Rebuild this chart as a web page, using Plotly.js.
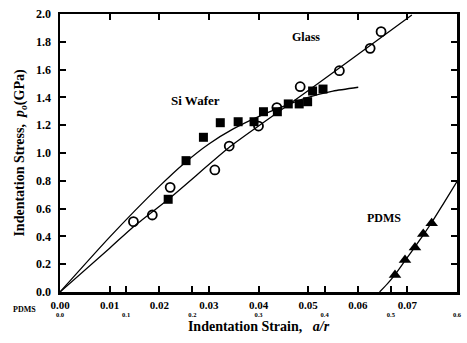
<!DOCTYPE html>
<html><head><meta charset="utf-8">
<script src="https://cdn.plot.ly/plotly-3.0.1.min.js"></script>
<style>html,body{margin:0;padding:0;background:#fff}#c{width:467px;height:343px}</style>
</head><body><div id="c"></div>
<script>
// Glass (open circles)
const glassX = [0.0148, 0.0186, 0.0222, 0.0312, 0.0341, 0.0400, 0.0437, 0.0484, 0.0563, 0.0625, 0.0647];
const glassY = [0.506, 0.554, 0.753, 0.878, 1.050, 1.194, 1.327, 1.477, 1.592, 1.753, 1.873];
// Si wafer (filled squares)
const siX = [0.0218, 0.0254, 0.0289, 0.0323, 0.0359, 0.0391, 0.0410, 0.0438, 0.0460, 0.0482, 0.0499, 0.0509, 0.0530];
const siY = [0.667, 0.945, 1.113, 1.218, 1.225, 1.225, 1.297, 1.297, 1.353, 1.353, 1.369, 1.446, 1.460];
// PDMS (filled triangles, PDMS strain scale)
const pdmsX = [0.5063, 0.5214, 0.5365, 0.5490, 0.5617];
const pdmsY = [0.122, 0.230, 0.321, 0.417, 0.494];
// Fitted curves
const glassFitX = [0, 0.0100, 0.0148, 0.0221, 0.0343, 0.0400, 0.0504, 0.0585, 0.0709];
const glassFitY = [0, 0.315, 0.470, 0.675, 1.046, 1.194, 1.458, 1.669, 1.993];
const siFitX = [0, 0.0100, 0.0200, 0.0250, 0.0300, 0.0350, 0.0400, 0.0450, 0.0500, 0.0550, 0.0601];
const siFitY = [0, 0.395, 0.760, 0.925, 1.065, 1.175, 1.262, 1.335, 1.400, 1.445, 1.473];
const pdmsFitX = [0.483, 0.495, 0.5063, 0.5214, 0.5365, 0.5490, 0.5617, 0.580, 0.600];
const pdmsFitY = [0, 0.060, 0.125, 0.225, 0.325, 0.410, 0.500, 0.640, 0.794];

const serif = "'Liberation Serif', 'Times New Roman', serif";
const lineStyle = {color: '#000', width: 1.3};
const data = [
  {x: glassFitX, y: glassFitY, mode: 'lines', line: Object.assign({shape: 'spline', smoothing: 0.6}, lineStyle), hoverinfo: 'skip'},
  {x: siFitX, y: siFitY, mode: 'lines', line: Object.assign({shape: 'spline', smoothing: 0.6}, lineStyle), hoverinfo: 'skip'},
  {x: pdmsFitX, y: pdmsFitY, xaxis: 'x2', mode: 'lines', line: Object.assign({shape: 'spline', smoothing: 0.6}, lineStyle), hoverinfo: 'skip'},
  {x: siX, y: siY, mode: 'markers', marker: {symbol: 'square', size: 9, color: '#000'}},
  {x: glassX, y: glassY, mode: 'markers', marker: {symbol: 'circle-open', size: 9, color: '#000', line: {width: 1.8, color: '#000'}}},
  {x: pdmsX, y: pdmsY, xaxis: 'x2', mode: 'markers', marker: {symbol: 'triangle-up', size: 11, color: '#000'}}
];
const layout = {
  width: 467, height: 343,
  margin: {l: 60, r: 10, t: 14, b: 51},
  paper_bgcolor: '#fff', plot_bgcolor: '#fff',
  showlegend: false,
  xaxis: {
    range: [0, 0.08], dtick: 0.01, tickformat: '.2f',
    showline: true, linewidth: 2.5, linecolor: '#000', mirror: 'ticks',
    ticks: 'inside', ticklen: 6, tickwidth: 2, tickcolor: '#000',
    showgrid: false, zeroline: false, ticklabelstandoff: 1,
    tickfont: {family: serif, size: 11, color: '#000', weight: 'bold'},
    title: {text: 'Indentation Strain,   <i>a/r</i>', font: {family: serif, size: 14, color: '#000', weight: 'bold'}, standoff: 12}
  },
  xaxis2: {
    overlaying: 'x', anchor: 'y', side: 'bottom', range: [0, 0.6], dtick: 0.1, tickformat: '.1f',
    showline: false, ticks: 'inside', ticklen: 6, tickwidth: 2, tickcolor: '#000',
    showgrid: false, zeroline: false,
    tickfont: {family: serif, size: 6.5, color: '#000', weight: 'bold'},
    ticklabelstandoff: 17
  },
  yaxis: {
    range: [0, 2.0], dtick: 0.2, tickformat: '.1f',
    showline: true, linewidth: 2.5, linecolor: '#000', mirror: 'ticks',
    ticks: 'inside', ticklen: 6, tickwidth: 2, tickcolor: '#000',
    showgrid: false, zeroline: false, ticklabelstandoff: 4,
    tickfont: {family: serif, size: 12, color: '#000', weight: 'bold'},
    title: {text: 'Indentation Stress,  <i>p<sub>o</sub></i>(GPa)', font: {family: serif, size: 14, color: '#000', weight: 'bold'}, standoff: 8}
  },
  annotations: [
    {text: 'Glass', x: 0.0495, y: 1.835, xref: 'x', yref: 'y', showarrow: false, font: {family: serif, size: 12, color: '#000', weight: 'bold'}},
    {text: 'Si Wafer', x: 0.0274, y: 1.38, xref: 'x', yref: 'y', showarrow: false, font: {family: serif, size: 13, color: '#000', weight: 'bold'}},
    {text: 'PDMS', x: 0.0652, y: 0.53, xref: 'x', yref: 'y', showarrow: false, font: {family: serif, size: 12, color: '#000', weight: 'bold'}},
    {text: 'PDMS', x: (24 - 60) / 397, y: (292 - 309) / 278, xref: 'paper', yref: 'paper', xanchor: 'center', yanchor: 'middle', showarrow: false, font: {family: serif, size: 8, color: '#000', weight: 'bold'}}
  ]
};
Plotly.newPlot('c', data, layout, {displayModeBar: false, staticPlot: true});
</script></body></html>
